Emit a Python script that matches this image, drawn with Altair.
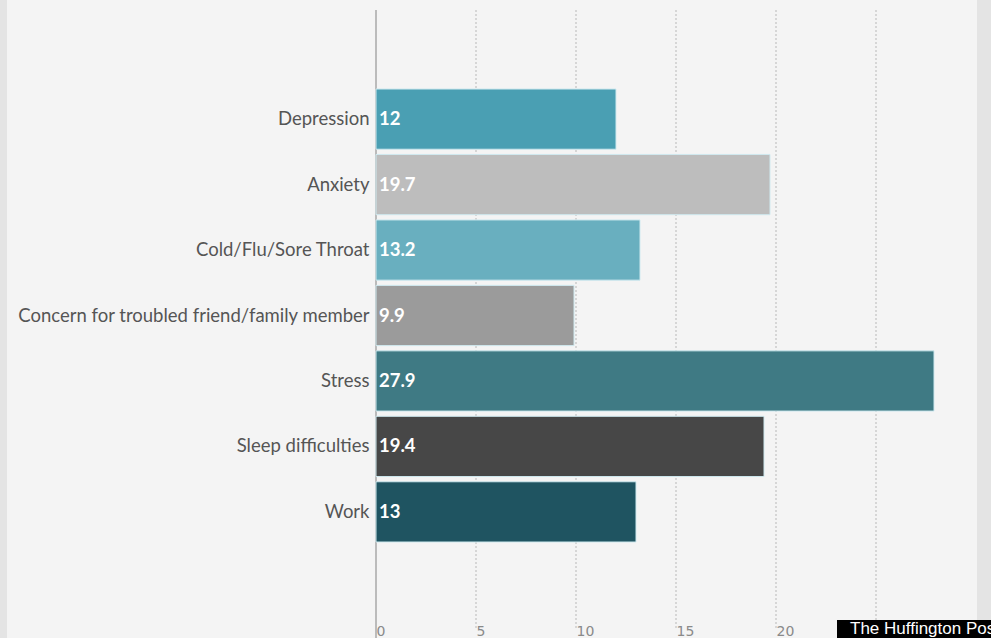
import altair as alt
import pandas as pd

categories = ["Depression", "Anxiety", "Cold/Flu/Sore Throat",
              "Concern for troubled friend/family member", "Stress",
              "Sleep difficulties", "Work"]
values = [12, 19.7, 13.2, 9.9, 27.9, 19.4, 13]
labels = ["12", "19.7", "13.2", "9.9", "27.9", "19.4", "13"]
colors = ["#4a9fb3", "#bdbdbd", "#69afbf", "#9b9b9b", "#3f7a84", "#474747", "#1f5461"]
tick_values = [0, 5, 10, 15, 20]
grid_values = [5, 10, 15, 20, 25]

df = pd.DataFrame({"cat": categories, "val": values, "lab": labels})
grid_df = pd.DataFrame({"g": grid_values})
zero_df = pd.DataFrame({"g": [0]})

FONT = "Lato"

x_scale = alt.Scale(domain=[0, 30], nice=False)

y_enc = alt.Y("cat:N", sort=categories,
              scale=alt.Scale(paddingInner=0.08, paddingOuter=0, range=[79, 532]),
              axis=alt.Axis(title=None, ticks=False, labelPadding=7, domain=False,
                            labelFont=FONT, labelFontSize=18.5, labelColor="#555555",
                            labelLimit=400, grid=False))
x_enc = alt.X("val:Q", scale=x_scale,
              axis=alt.Axis(title=None, values=tick_values, grid=False, domain=False,
                            ticks=False, labelAlign="left", labelPadding=4,
                            labelFontSize=14, labelFont="DejaVu Sans",
                            labelColor="#8a8a8a", labelBaseline="top", labelOffset=0))

grid = alt.Chart(grid_df).mark_rule(color="#b8b8b8", strokeDash=[2, 2], strokeWidth=1).encode(
    x=alt.X("g:Q", scale=x_scale), y=alt.value(0), y2=alt.value(618))

zero_line = alt.Chart(zero_df).mark_rule(color="#a8a8a8", strokeWidth=1.5).encode(
    x=alt.X("g:Q", scale=x_scale), y=alt.value(0), y2=alt.value(628))

bars = alt.Chart(df).mark_bar(stroke="#cfe9ef", strokeWidth=1).encode(
    y=y_enc, x=x_enc,
    color=alt.Color("cat:N", scale=alt.Scale(domain=categories, range=colors), legend=None),
)

text = alt.Chart(df).mark_text(align="left", baseline="middle", dx=3,
                               font=FONT, fontSize=18.5, fontWeight="bold",
                               color="#ffffff").encode(
    y=alt.Y("cat:N", sort=categories), x=alt.datum(0), text="lab:N")

badge_df = pd.DataFrame({"t": ["The Huffington Post"]})
badge_rect = alt.Chart(badge_df).mark_rect(color="#000000").encode(
    x=alt.value(461), x2=alt.value(615), y=alt.value(610), y2=alt.value(628))
badge_text = alt.Chart(badge_df).mark_text(align="left", baseline="alphabetic",
                                           font="Liberation Sans", fontSize=17,
                                           color="#ffffff").encode(
    x=alt.value(474), y=alt.value(624), text="t:N")

border_df = pd.DataFrame({"s": ["l", "r"]})
left_strip = alt.Chart(border_df.iloc[[0]]).mark_rect(color="#e4e4e4").encode(
    x=alt.value(-376), x2=alt.value(-369), y=alt.value(-10), y2=alt.value(628))
right_strip = alt.Chart(border_df.iloc[[1]]).mark_rect(color="#e4e4e4").encode(
    x=alt.value(601), x2=alt.value(615), y=alt.value(-10), y2=alt.value(628))

chart = alt.layer(left_strip, right_strip, grid, zero_line, bars, text,
                  badge_rect, badge_text).properties(
    width=600, height=610,
    autosize=alt.AutoSizeParams(type="none"),
    padding={"left": 376, "top": 10, "right": 15, "bottom": 18},
    background="#f4f4f4",
).configure_view(stroke=None)

chart.save("out.html", embed_options={"renderer": "svg", "actions": False})
